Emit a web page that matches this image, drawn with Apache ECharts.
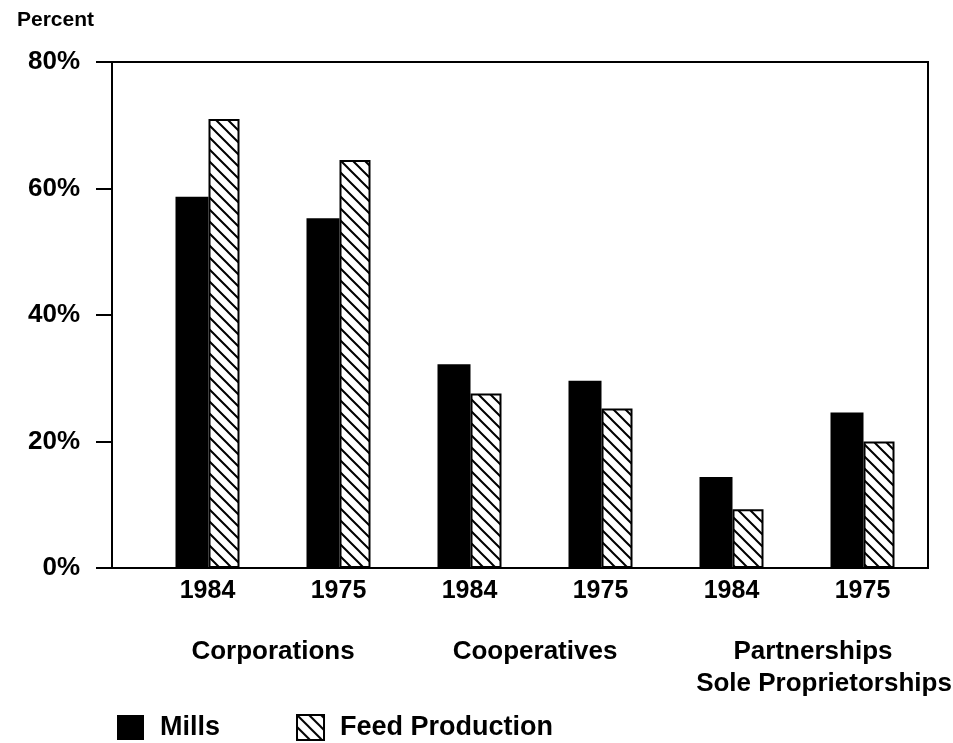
<!DOCTYPE html>
<html>
<head>
<meta charset="utf-8">
<script src="https://cdn.jsdelivr.net/npm/echarts@6/dist/echarts.min.js"></script>
<style>html,body{margin:0;padding:0;background:#fff;}#c{width:953px;height:743px;}</style>
</head>
<body>
<div id="c"></div>
<script>
var years = ['1984', '1975', '1984', '1975', '1984', '1975'];
var groups = ['Corporations', 'Cooperatives', 'Partnerships\nSole Proprietorships'];
var mills = [58.7, 55.3, 32.2, 29.6, 14.4, 24.6];
var feedProduction = [71, 64.5, 27.6, 25.2, 9.3, 20.0];
var yTicks = [0, 20, 40, 60, 80];

var FONT = '"Liberation Sans", Arial, sans-serif';

function hatch() {
  var s = 12, c = document.createElement('canvas');
  c.width = s; c.height = s;
  var g = c.getContext('2d');
  g.fillStyle = '#fff'; g.fillRect(0, 0, s, s);
  g.strokeStyle = '#000'; g.lineWidth = 2;
  g.beginPath();
  g.moveTo(-2, -2); g.lineTo(s + 2, s + 2);
  g.moveTo(-2, s - 2); g.lineTo(2, s + 2);
  g.moveTo(s - 2, -2); g.lineTo(s + 2, 2);
  g.stroke();
  return c;
}
var pattern = { image: hatch(), repeat: 'repeat' };

var chart = echarts.init(document.getElementById('c'));
chart.setOption({
  animation: false,
  backgroundColor: '#fff',
  title: {
    text: 'Percent', left: 12, top: 5,
    textStyle: { fontFamily: FONT, fontWeight: 'bold', fontSize: 21, color: '#000' }
  },
  grid: [
    { left: 142, right: 25, top: 62, bottom: 175, outerBoundsMode: 'none', containLabel: false },
    { left: 112, right: 25, top: 62, bottom: 175, outerBoundsMode: 'none', containLabel: false, show: true, borderColor: '#000', borderWidth: 2, backgroundColor: 'transparent' }
  ],
  legend: {
    left: 112, top: 709, itemWidth: 27, itemHeight: 25, itemGap: 76,
    textStyle: { fontFamily: FONT, fontWeight: 'bold', fontSize: 27, color: '#000', padding: [0, 0, 0, 11] },
    data: [{ name: 'Mills', icon: 'rect' }, { name: 'Feed Production', icon: 'rect' }]
  },
  xAxis: [
    {
      type: 'category', gridIndex: 0, data: years, position: 'bottom',
      axisLine: { show: true, lineStyle: { color: '#000', width: 2 } },
      axisTick: { show: false },
      axisLabel: { margin: 11, fontFamily: FONT, fontWeight: 'bold', fontSize: 25, color: '#000' }
    },
    {
      type: 'category', gridIndex: 0, data: groups, position: 'bottom', offset: 58,
      axisLine: { show: false }, axisTick: { show: false },
      axisLabel: {
        margin: 10, interval: 0, lineHeight: 32,
        fontFamily: FONT, fontWeight: 'bold', fontSize: 26, color: '#000',
        formatter: function (v) {
          var p = v.split('\n');
          if (p.length === 1) return v;
          return '{a|' + p[0] + '}\n{b|' + p[1] + '}';
        },
        rich: {
          a: { fontFamily: FONT, fontWeight: 'bold', fontSize: 26, color: '#000', padding: [0, 0, 0, 32], lineHeight: 32 },
          b: { fontFamily: FONT, fontWeight: 'bold', fontSize: 26, color: '#000', padding: [0, 0, 0, 54], lineHeight: 32 }
        }
      }
    },
    { type: 'value', gridIndex: 1, show: false }
  ],
  yAxis: [
    {
      type: 'value', gridIndex: 0, min: 0, max: 80, interval: 20, offset: 30,
      axisLine: { show: true, lineStyle: { color: '#000', width: 2 } },
      axisTick: { show: true, length: 16, lineStyle: { color: '#000', width: 2 } },
      splitLine: { show: false },
      axisLabel: {
        margin: 32, fontFamily: FONT, fontWeight: 'bold', fontSize: 26, color: '#000',
        formatter: function (v) { return yTicks.indexOf(v) >= 0 ? v + '%' : ''; }
      }
    },
    { type: 'value', gridIndex: 1, show: false }
  ],
  series: [
    {
      name: 'Mills', type: 'bar', xAxisIndex: 0, yAxisIndex: 0,
      data: mills, barWidth: 33, barGap: '0%',
      itemStyle: { color: '#000' }
    },
    {
      name: 'Feed Production', type: 'bar', xAxisIndex: 0, yAxisIndex: 0,
      data: feedProduction, barWidth: 31, barGap: '0%',
      itemStyle: { color: pattern, borderColor: '#000', borderWidth: 2 }
    }
  ]
});
</script>
</body>
</html>
